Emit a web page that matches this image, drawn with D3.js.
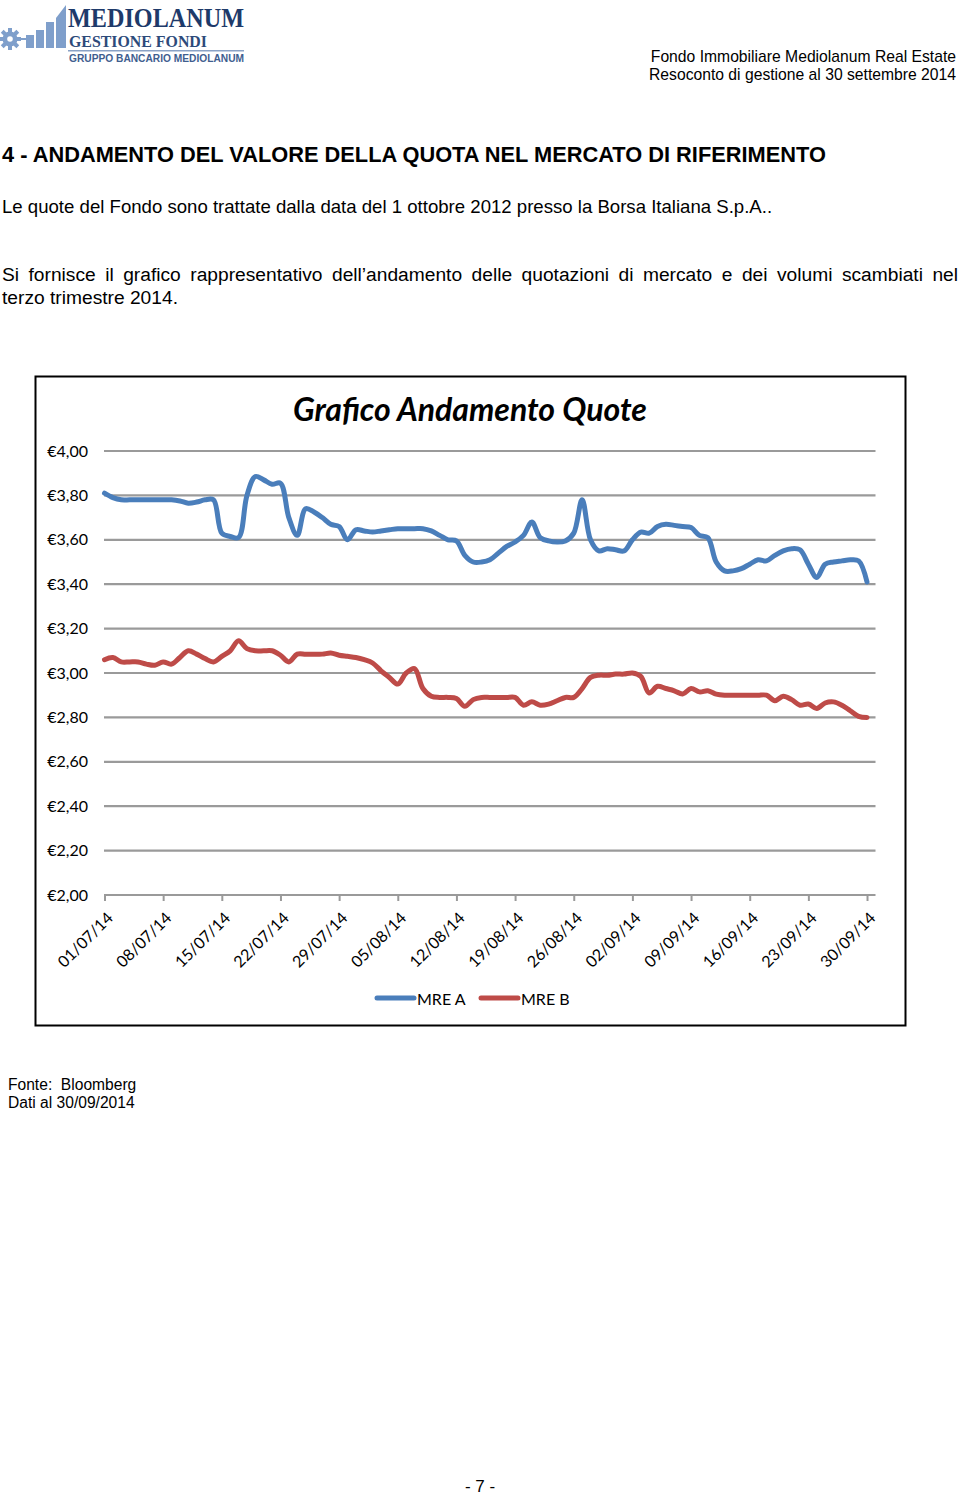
<!DOCTYPE html>
<html><head><meta charset="utf-8">
<script src="https://cdn.jsdelivr.net/npm/d3@7"></script>
<style>
html,body{margin:0;padding:0;background:#fff;}
svg{display:block;}
</style></head>
<body>
<script>
// ---------- DATA ----------
const startDate = "2014-07-01";
const endDate = "2014-10-01"; // axis end (exclusive day)
const seriesNames = ["MRE A", "MRE B"];
const mreA = [3.81,3.79,3.78,3.78,3.78,3.78,3.78,3.78,3.78,3.775,3.765,3.77,3.78,3.78,3.63,3.615,3.61,3.80,3.885,3.87,3.85,3.855,3.70,3.62,3.74,3.725,3.70,3.67,3.66,3.60,3.645,3.64,3.635,3.64,3.645,3.65,3.65,3.65,3.65,3.64,3.62,3.60,3.595,3.53,3.50,3.50,3.51,3.54,3.57,3.59,3.62,3.68,3.61,3.595,3.59,3.595,3.63,3.78,3.60,3.55,3.56,3.555,3.55,3.60,3.635,3.63,3.66,3.67,3.665,3.66,3.655,3.62,3.61,3.50,3.46,3.46,3.47,3.49,3.51,3.505,3.53,3.55,3.56,3.555,3.49,3.43,3.49,3.50,3.505,3.51,3.505,3.41];
const mreB = [3.06,3.07,3.05,3.05,3.05,3.04,3.035,3.05,3.04,3.07,3.10,3.085,3.065,3.05,3.075,3.10,3.145,3.11,3.10,3.10,3.10,3.08,3.05,3.085,3.085,3.085,3.085,3.09,3.08,3.075,3.07,3.06,3.045,3.01,2.98,2.95,3.00,3.02,2.93,2.895,2.89,2.89,2.885,2.85,2.88,2.89,2.89,2.89,2.89,2.89,2.855,2.87,2.855,2.86,2.875,2.89,2.89,2.93,2.98,2.99,2.99,2.995,2.995,3.00,2.985,2.91,2.94,2.93,2.92,2.905,2.93,2.915,2.92,2.905,2.90,2.90,2.90,2.90,2.90,2.90,2.875,2.895,2.88,2.855,2.86,2.84,2.865,2.87,2.855,2.83,2.805,2.80];
const xTickLabels = ["01/07/14","08/07/14","15/07/14","22/07/14","29/07/14","05/08/14","12/08/14","19/08/14","26/08/14","02/09/14","09/09/14","16/09/14","23/09/14","30/09/14"];
const yTicks = [2.00,2.20,2.40,2.60,2.80,3.00,3.20,3.40,3.60,3.80,4.00];
const colors = ["#4a7ebb","#be4b48"];

// ---------- PAGE ----------
const W = 960, H = 1496;
const svg = d3.select("body").append("svg").attr("width", W).attr("height", H);

// Logo
const logo = svg.append("g");
logo.append("circle").attr("cx",10).attr("cy",39).attr("r",7.5).attr("fill","#7f9fcb");
for (let i=0;i<8;i++){
  logo.append("rect").attr("x",-2).attr("y",-11).attr("width",4).attr("height",5)
    .attr("fill","#7f9fcb").attr("transform",`translate(10,39) rotate(${i*45})`);
}
logo.append("circle").attr("cx",10).attr("cy",39).attr("r",2.8).attr("fill","#fff");
logo.append("rect").attr("x",18).attr("y",38).attr("width",8).attr("height",2).attr("fill","#7f9fcb");
logo.append("rect").attr("x",26).attr("y",35).attr("width",8).attr("height",13).attr("fill","#7f9fcb");
logo.append("rect").attr("x",36).attr("y",30).attr("width",8).attr("height",18).attr("fill","#7f9fcb");
logo.append("rect").attr("x",46).attr("y",22).attr("width",8).attr("height",26).attr("fill","#7f9fcb");
logo.append("path").attr("d","M56,48 L56,18 L66,5 L66,48 Z").attr("fill","#7f9fcb");
logo.append("text").attr("x",68).attr("y",27).attr("font-family","Liberation Serif")
  .attr("font-weight","bold").attr("font-size",27).attr("fill","#1e3a6a")
  .attr("textLength",176).attr("lengthAdjust","spacingAndGlyphs").text("MEDIOLANUM");
logo.append("text").attr("x",69).attr("y",47).attr("font-family","Liberation Serif")
  .attr("font-weight","bold").attr("font-size",17).attr("fill","#2d4a7a")
  .attr("textLength",138).attr("lengthAdjust","spacingAndGlyphs").text("GESTIONE FONDI");
logo.append("rect").attr("x",68).attr("y",50).attr("width",176).attr("height",1.5).attr("fill","#8aa2c6");
logo.append("text").attr("x",69).attr("y",62).attr("font-family","Liberation Sans")
  .attr("font-weight","bold").attr("font-size",10.5).attr("fill","#3f5e8f")
  .attr("textLength",175).attr("lengthAdjust","spacingAndGlyphs").text("GRUPPO BANCARIO MEDIOLANUM");

// Header right
const hdr = svg.append("g").attr("font-family","Liberation Sans, Arial").attr("font-size",15.7).attr("fill","#000").attr("text-anchor","end");
hdr.append("text").attr("x",956).attr("y",62).text("Fondo Immobiliare Mediolanum Real Estate");
hdr.append("text").attr("x",956).attr("y",80).text("Resoconto di gestione al 30 settembre 2014");

// Body text
const body = svg.append("g").attr("font-family","Liberation Sans, Arial").attr("fill","#000");
body.append("text").attr("x",2).attr("y",162).attr("font-size",21.8).attr("font-weight","bold")
  .text("4 - ANDAMENTO DEL VALORE DELLA QUOTA NEL MERCATO DI RIFERIMENTO");
body.append("text").attr("x",2).attr("y",213).attr("font-size",18.6)
  .text("Le quote del Fondo sono trattate dalla data del 1 ottobre 2012 presso la Borsa Italiana S.p.A..");
const just = body.append("text").attr("x",2).attr("y",281).attr("font-size",19.2)
  .text("Si fornisce il grafico rappresentativo dell\u2019andamento delle quotazioni di mercato e dei volumi scambiati nel");
{
  const str = just.text();
  const gaps = (str.match(/ /g) || []).length;
  const natural = just.node().getComputedTextLength();
  const extra = Math.max(0, (956 - natural) / gaps);
  just.attr("word-spacing", extra);
}
body.append("text").attr("x",2).attr("y",304).attr("font-size",19.2).text("terzo trimestre 2014.");

body.append("text").attr("x",8).attr("y",1090).attr("font-size",15.6).text("Fonte:\u00a0 Bloomberg");
body.append("text").attr("x",8).attr("y",1108).attr("font-size",15.6).text("Dati al 30/09/2014");
body.append("text").attr("x",480).attr("y",1492).attr("font-size",17).attr("text-anchor","middle").text("- 7 -");

// ---------- CHART ----------
svg.append("rect").attr("x",35.5).attr("y",376.5).attr("width",870).attr("height",649)
  .attr("fill","#fff").attr("stroke","#000").attr("stroke-width",2);

const chartFont = "Lato, 'Open Sans', sans-serif";
svg.append("text").attr("x",470).attr("y",421).attr("text-anchor","middle")
  .attr("font-family",chartFont).attr("font-weight","bold").attr("font-style","italic")
  .attr("font-size",32).attr("fill","#000").text("Grafico Andamento Quote");

const parse = d3.utcParse("%Y-%m-%d");
const x0 = parse(startDate), x1 = parse(endDate);
const dates = d3.utcDay.range(x0, x1);
const x = d3.scaleUtc().domain([x0, x1]).range([104.5, 875.4]);
const y = d3.scaleLinear().domain([2, 4]).range([895, 451]);

// Gridlines
svg.append("g").selectAll("line").data(yTicks.slice(1)).join("line")
  .attr("x1",104).attr("x2",875.5).attr("y1",d=>y(d)).attr("y2",d=>y(d))
  .attr("stroke","#9a9a9a").attr("stroke-width",2.2);

// Y axis labels
const fmtEuro = d => "\u20ac" + d.toFixed(2).replace(".", ",");
const yAxis = svg.append("g").attr("transform","translate(96,0)")
  .call(d3.axisLeft(y).tickValues(yTicks).tickSize(0).tickPadding(8).tickFormat(fmtEuro));
yAxis.select(".domain").remove();
yAxis.selectAll("text").attr("font-family",chartFont).attr("font-size",16).attr("fill","#000");

// X axis
const tickDates = xTickLabels.map(s => d3.utcParse("%d/%m/%y")(s));
const xAxis = svg.append("g").attr("transform","translate(0,895)")
  .call(d3.axisBottom(x).tickValues(tickDates).tickSize(6).tickFormat((d,i)=>xTickLabels[i]));
xAxis.select(".domain").attr("stroke","#9a9a9a").attr("stroke-width",2.2).attr("d","M104,0H875.5");
xAxis.selectAll(".tick line").attr("stroke","#9a9a9a").attr("stroke-width",2);
xAxis.selectAll(".tick text")
  .attr("font-family",chartFont).attr("font-size",16).attr("fill","#000")
  .attr("text-anchor","end").attr("dy",null).attr("y",null)
  .attr("transform","translate(9,24) rotate(-45)");

// Lines
const line = d3.line().x((d,i)=>x(dates[i])).y(d=>y(d)).curve(d3.curveCatmullRom.alpha(0.5));
[mreA, mreB].forEach((s,k)=>{
  svg.append("path").datum(s).attr("d",line).attr("fill","none")
    .attr("stroke",colors[k]).attr("stroke-width",5).attr("stroke-linejoin","round").attr("stroke-linecap","round");
});

// Legend
const legendPos = [377, 481];
seriesNames.forEach((n,k)=>{
  const g = svg.append("g");
  g.append("line").attr("x1",legendPos[k]).attr("x2",legendPos[k]+37).attr("y1",998).attr("y2",998)
    .attr("stroke",colors[k]).attr("stroke-width",5).attr("stroke-linecap","round");
  g.append("text").attr("x",legendPos[k]+40).attr("y",1005).attr("font-family",chartFont)
    .attr("font-size",16).attr("fill","#000").text(n);
});
</script>
</body></html>
